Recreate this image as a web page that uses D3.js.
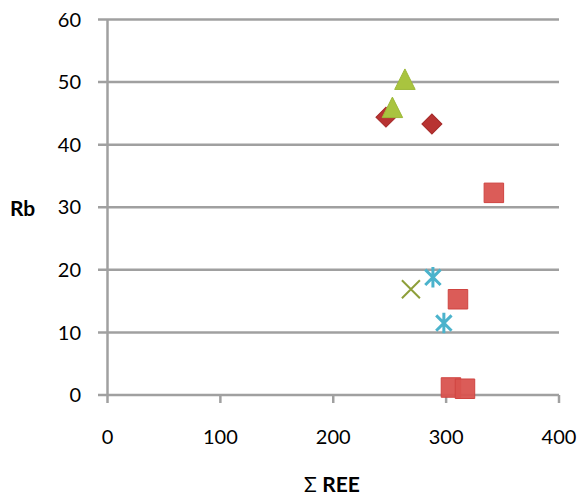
<!DOCTYPE html>
<html><head><meta charset="utf-8">
<script src="https://cdnjs.cloudflare.com/ajax/libs/d3/7.8.5/d3.min.js"></script>
<style>
html,body{margin:0;padding:0;background:#fff;}
svg{display:block;font-family:Lato,"Open Sans",sans-serif;}
</style></head>
<body>
<svg id="chart" width="581" height="501"></svg>
<script>
// Data (Σ REE, Rb)
const diamondX = [246.7, 287.4];
const diamondY = [44.4, 43.3];
const squareX = [342.3, 310.5, 304.3, 316.7];
const squareY = [32.3, 15.3, 1.2, 1.0];
const triangleX = [263.5, 252.4];
const triangleY = [50.3, 45.8];
const crossX = [268.8];
const crossY = [16.9];
const starX = [288.3, 298.0];
const starY = [18.8, 11.5];
const xTicks = [0, 100, 200, 300, 400];
const yTicks = [0, 10, 20, 30, 40, 50, 60];
const xTitle = "REE";
const yTitle = "Rb";

const svg = d3.select("#chart");
const x = d3.scaleLinear().domain([0, 400]).range([107.5, 559]);
const y = d3.scaleLinear().domain([0, 60]).range([395, 19.5]);
const grid = "#a0a0a0";

// gridlines
svg.append("g").selectAll("line").data(yTicks).join("line")
  .attr("x1", 98).attr("x2", x(400))
  .attr("y1", d => y(d)).attr("y2", d => y(d))
  .attr("stroke", grid).attr("stroke-width", 2.5);
// y axis line
svg.append("line").attr("x1", x(0)).attr("x2", x(0))
  .attr("y1", y(60)).attr("y2", y(0) + 1)
  .attr("stroke", grid).attr("stroke-width", 2.5);
// x ticks
svg.append("g").selectAll("line").data(xTicks).join("line")
  .attr("x1", d => x(d)).attr("x2", d => x(d))
  .attr("y1", y(0)).attr("y2", y(0) + 8)
  .attr("stroke", grid).attr("stroke-width", 2.5);

// tick labels
svg.append("g").selectAll("text").data(yTicks).join("text")
  .attr("x", 81).attr("y", d => y(d)).attr("dy", "0.36em")
  .attr("text-anchor", "end").attr("font-size", 20).attr("fill", "#000")
  .text(d => d);
svg.append("g").selectAll("text").data(xTicks).join("text")
  .attr("x", d => x(d)).attr("y", 444)
  .attr("text-anchor", "middle").attr("font-size", 20).attr("fill", "#000")
  .text(d => d);

// titles
svg.append("text").attr("x", 10).attr("y", 216)
  .attr("font-size", 21).attr("font-weight", "bold").text(yTitle);
const xt = svg.append("text").attr("x", 332).attr("y", 492)
  .attr("text-anchor", "middle").attr("font-size", 21);
xt.append("tspan").text("\u03A3 ");
xt.append("tspan").attr("font-weight", "bold").text(xTitle);

// marker symbol types
const triType = { draw(c, s) { const w = Math.sqrt(s); c.moveTo(0, -w * 0.55); c.lineTo(w / 2, w * 0.45); c.lineTo(-w / 2, w * 0.45); c.closePath(); } };
const xType = { draw(c, s) { const h = Math.sqrt(s) / 2; c.moveTo(-h, -h); c.lineTo(h, h); c.moveTo(h, -h); c.lineTo(-h, h); } };
const starType = { draw(c, s) { const h = Math.sqrt(s) / 2; c.moveTo(-h * 0.75, -h * 0.75); c.lineTo(h * 0.75, h * 0.75); c.moveTo(h * 0.75, -h * 0.75); c.lineTo(-h * 0.75, h * 0.75); c.moveTo(0, -h); c.lineTo(0, h); } };

function pts(xs, ys) { return xs.map((v, i) => [v, ys[i]]); }
const g = svg.append("g");

g.selectAll(".dia").data(pts(diamondX, diamondY)).join("path")
  .attr("transform", d => `translate(${x(d[0])},${y(d[1])}) rotate(45)`)
  .attr("d", d3.symbol().type(d3.symbolSquare).size(200))
  .attr("fill", "#b83332").attr("stroke", "#a52a29").attr("stroke-width", 1);

g.selectAll(".sq").data(pts(squareX, squareY)).join("path")
  .attr("transform", d => `translate(${x(d[0])},${y(d[1])})`)
  .attr("d", d3.symbol().type(d3.symbolSquare).size(380))
  .attr("fill", "#d9534f").attr("stroke", "#cf4440").attr("stroke-width", 1)
  .attr("fill-opacity", 0.95);

g.selectAll(".tri").data(pts(triangleX, triangleY)).join("path")
  .attr("transform", d => `translate(${x(d[0])},${y(d[1])})`)
  .attr("d", d3.symbol().type(triType).size(420))
  .attr("fill", "#a9c43f").attr("stroke", "#9cb838").attr("stroke-width", 1);

g.selectAll(".cr").data(pts(crossX, crossY)).join("path")
  .attr("transform", d => `translate(${x(d[0])},${y(d[1])})`)
  .attr("d", d3.symbol().type(xType).size(324))
  .attr("fill", "none").attr("stroke", "#8e9f3a").attr("stroke-width", 2);

g.selectAll(".st").data(pts(starX, starY)).join("path")
  .attr("transform", d => `translate(${x(d[0])},${y(d[1])})`)
  .attr("d", d3.symbol().type(starType).size(420))
  .attr("fill", "none").attr("stroke", "#4bb3cc").attr("stroke-width", 3);
</script>
</body></html>
